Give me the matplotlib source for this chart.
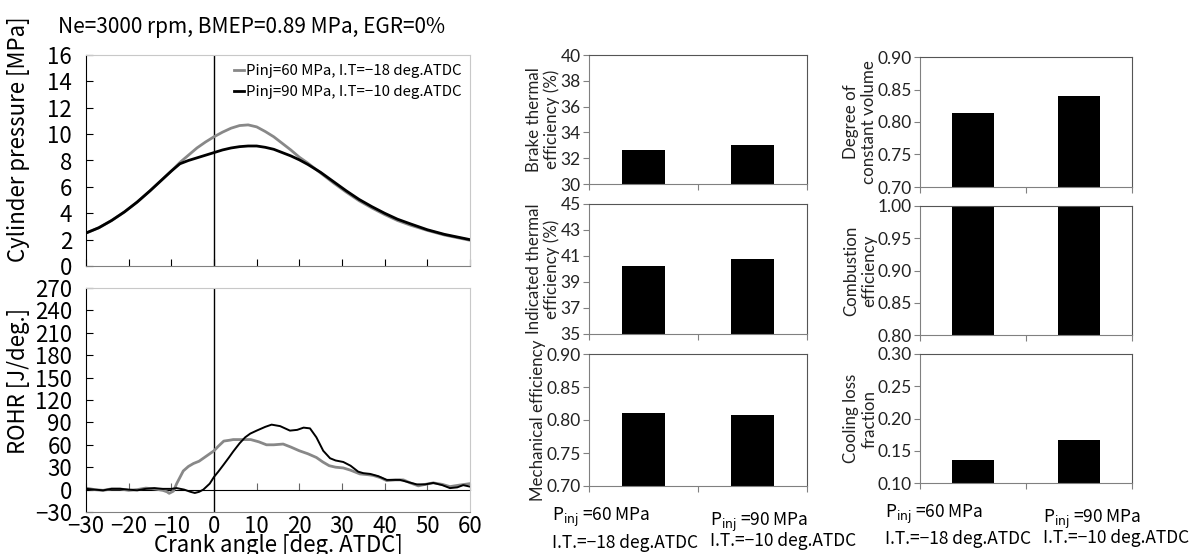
import matplotlib
matplotlib.use("Agg")
import matplotlib.pyplot as plt
import numpy as np

plt.rcParams["font.family"] = ["Noto Sans CJK JP", "DejaVu Sans"]
plt.rcParams["axes.unicode_minus"] = True

JP = ["Noto Sans CJK JP", "DejaVu Sans"]
BARFONT = ["Lato", "DejaVu Sans"]

# ---- cylinder pressure (MPa) vs crank angle ----
angle_p = [-30, -27, -24, -21, -18, -15, -12, -10, -8, -6, -4, -2, 0, 2, 4, 6, 8, 10,
           12, 14, 16, 18, 20, 22, 25, 28, 31, 34, 37, 40, 43, 46, 50, 54, 57, 60]
p_60 = [2.5, 2.9, 3.45, 4.1, 4.85, 5.7, 6.6, 7.2, 7.85, 8.4, 8.95, 9.4, 9.8, 10.15, 10.45,
        10.65, 10.7, 10.55, 10.2, 9.8, 9.3, 8.8, 8.25, 7.8, 7.05, 6.3, 5.6, 4.95, 4.4, 3.9,
        3.45, 3.1, 2.7, 2.35, 2.15, 1.95]
p_90 = [2.5, 2.9, 3.45, 4.1, 4.85, 5.7, 6.6, 7.2, 7.75, 8.0, 8.2, 8.4, 8.6, 8.8, 8.95,
        9.05, 9.1, 9.1, 9.0, 8.85, 8.6, 8.35, 8.05, 7.7, 7.1, 6.4, 5.7, 5.05, 4.5, 4.0,
        3.55, 3.2, 2.75, 2.4, 2.2, 2.0]

# ---- rate of heat release (J/deg.) ----
angle_r60 = [-30, -28, -26, -24, -22, -20, -18, -16, -14, -12, -11, -10.5, -9.5, -8.75,
             -7.2, -6, -4.8, -3.5, -2.5, -1, 0, 1, 2.3, 3.5, 4.5, 6.5, 8.6, 10.5, 12.3, 14,
             16.2, 18, 20, 22, 24, 25.5, 27, 28.5, 30.3, 32, 34.2, 36, 37.3, 39, 40.5, 42.5,
             44.4, 46, 47.9, 49.5, 51.4, 53.5, 55.3, 57.5, 60]
rohr_60 = [2, 0, -1, 1, 1, -1, 0, 2, 1, -1, -3, -5, -2, 8, 25, 31, 35, 38, 42, 48, 52, 58,
           65, 66, 67, 67, 67, 64, 60, 60, 61, 57, 52, 48, 43, 37, 32, 30, 29, 26, 21, 20,
           19, 16, 12, 13, 13, 9, 5, 7, 9, 7, 4, 6, 8]
angle_r90 = [-30, -28, -26, -24, -22, -20, -18, -16, -14, -12, -10, -8.75, -7, -5.5, -4.5,
             -3.5, -2.5, -1, 0, 1, 2.2, 3.5, 4.5, 6, 7.3, 8.5, 10, 12, 13.5, 15.5, 17.8,
             19.5, 21, 22.5, 24, 25.6, 27.2, 28.5, 30.3, 32, 33.8, 35, 36.6, 38.5, 40.5,
             42, 43.6, 45.5, 47.5, 49.5, 51.4, 53.5, 55.3, 57, 58.4, 60]
rohr_90 = [1, 0, -1, 1, 1, 0, -1, 1, 2, 1, 1, 2, 0, -3, -4.5, -3, 0, 8, 17, 24, 33, 43, 51,
           62, 70, 75, 79, 84, 87, 85, 79, 80, 83, 82, 70, 52, 42, 39, 37, 32, 24, 22, 21,
           18, 13, 13, 13, 10, 7, 7, 9, 6, 2, 3, 6, 4]

legend_labels = ["Pinj=60 MPa, I.T=\u221218 deg.ATDC", "Pinj=90 MPa, I.T=\u221210 deg.ATDC"]
case_labels = ["P$_{\\rm inj}$ =60 MPa\nI.T.=\u221218 deg.ATDC",
               "P$_{\\rm inj}$ =90 MPa\nI.T.=\u221210 deg.ATDC"]

# ---- bar panels: (ylabel, values, ylim, yticks, tick format) ----
brake_eff = [32.6, 33.0]
indicated_eff = [40.2, 40.8]
mech_eff = [0.811, 0.808]
const_vol = [0.814, 0.840]
comb_eff = [0.998, 1.0]
cooling_loss = [0.135, 0.166]

panels_mid = [
    ("Brake thermal\nefficiency (%)", brake_eff, (30, 40), [30, 32, 34, 36, 38, 40], "{:.0f}"),
    ("Indicated thermal\nefficiency (%)", indicated_eff, (35, 45), [35, 37, 39, 41, 43, 45], "{:.0f}"),
    ("Mechanical efficiency", mech_eff, (0.70, 0.90), [0.70, 0.75, 0.80, 0.85, 0.90], "{:.2f}"),
]
panels_right = [
    ("Degree of\nconstant volume", const_vol, (0.70, 0.90), [0.70, 0.75, 0.80, 0.85, 0.90], "{:.2f}"),
    ("Combustion\nefficiency", comb_eff, (0.80, 1.00), [0.80, 0.85, 0.90, 0.95, 1.00], "{:.2f}"),
    ("Cooling loss\nfraction", cooling_loss, (0.10, 0.30), [0.10, 0.15, 0.20, 0.25, 0.30], "{:.2f}"),
]

W, H = 1201, 554
fig = plt.figure(figsize=(W / 100, H / 100), dpi=100)


def px_axes(x0, y0, x1, y1):
    return fig.add_axes([x0 / W, 1 - y1 / H, (x1 - x0) / W, (y1 - y0) / H])


def style_line_axes(ax):
    ax.spines["left"].set_color("black")
    ax.spines["bottom"].set_color("#808080")
    ax.spines["top"].set_color("#c8c8c8")
    ax.spines["right"].set_color("#c8c8c8")
    ax.set_xlim(-30, 60)
    ax.set_xticks(np.arange(-30, 61, 10))
    ax.tick_params(axis="both", direction="in", labelsize=16, pad=10, length=5, width=0.8)
    ax.axvline(0, color="black", lw=1.0)


# top-left: cylinder pressure
ax_p = px_axes(86, 55, 470, 266)
style_line_axes(ax_p)
ax_p.plot(angle_p, p_60, color="#888888", lw=2.0, label=legend_labels[0])
ax_p.plot(angle_p, p_90, color="black", lw=2.0, label=legend_labels[1])
ax_p.set_ylim(0, 16)
ax_p.set_yticks(np.arange(0, 17, 2))
ax_p.tick_params(axis="x", labelbottom=False)
ax_p.set_ylabel("Cylinder pressure [MPa]", fontsize=16)
ax_p.yaxis.set_label_coords(-0.145, 0.6)
ax_p.legend(loc="upper right", fontsize=10.8, frameon=False, handlelength=0.7,
            handletextpad=0.1, labelspacing=0.45, borderaxespad=0.2)
ax_p.set_title("Ne=3000 rpm, BMEP=0.89 MPa, EGR=0%", fontsize=15, pad=16, x=0.43)

# bottom-left: ROHR
ax_r = px_axes(86, 288, 470, 512)
style_line_axes(ax_r)
ax_r.plot(angle_r60, rohr_60, color="#888888", lw=2.0)
ax_r.plot(angle_r90, rohr_90, color="black", lw=1.4)
ax_r.set_ylim(-30, 270)
ax_r.set_yticks(np.arange(-30, 271, 30))
ax_r.tick_params(axis="x", length=0, pad=2)
zero_axis = ax_r.secondary_xaxis(30 / 300)
zero_axis.spines["bottom"].set_color("black")
zero_axis.set_xticks(np.arange(-30, 61, 10))
zero_axis.tick_params(direction="in", length=5, labelbottom=False, color="#666666")
ax_r.set_ylabel("ROHR [J/deg.]", fontsize=16)
ax_r.yaxis.set_label_coords(-0.145, 0.585)
ax_r.set_xlabel("Crank angle [deg. ATDC]", fontsize=16, labelpad=-3)


def bar_panel(ax, ylabel, values, ylim, yticks, fmt, show_cases, label_x):
    ax.bar([0, 1], values, width=0.4, color="black", zorder=2)
    ax.set_xlim(-0.5, 1.5)
    ax.set_ylim(*ylim)
    ax.set_yticks(yticks)
    ax.set_yticklabels([fmt.format(v) for v in yticks], family=BARFONT, fontsize=12.5,
                       color="#222222")
    ax.set_xticks([-0.5, 0.5, 1.5])
    ax.set_xticklabels([])
    ax.tick_params(axis="both", direction="out", length=4, color="#808080", pad=2)
    for side in ["left", "bottom"]:
        ax.spines[side].set_color("#808080")
    for side in ["top", "right"]:
        ax.spines[side].set_color("#555555")
    ax.set_ylabel(ylabel, family=BARFONT, fontsize=12.2, color="#222222", labelpad=0,
                  linespacing=1.15)
    if show_cases:
        for lx, ly, ls, txt in zip(label_x, [-0.15, -0.19], [1.35, 0.85], case_labels):
            ax.text(lx, ly, txt, transform=ax.transAxes, ha="left", va="top",
                    fontsize=12.5, family=JP, linespacing=ls)


rows_mid = [(55, 184), (204, 334), (354, 486)]
rows_right = [(57, 187), (206, 335), (354, 483)]
for i, (panel, (y0, y1)) in enumerate(zip(panels_mid, rows_mid)):
    ax = px_axes(589, y0, 807, y1)
    bar_panel(ax, *panel, show_cases=(i == 2), label_x=[-0.17, 0.555])
for i, (panel, (y0, y1)) in enumerate(zip(panels_right, rows_right)):
    ax = px_axes(920, y0, 1132, y1)
    bar_panel(ax, *panel, show_cases=(i == 2), label_x=[-0.165, 0.58])

fig.savefig("out.png", dpi=100)
